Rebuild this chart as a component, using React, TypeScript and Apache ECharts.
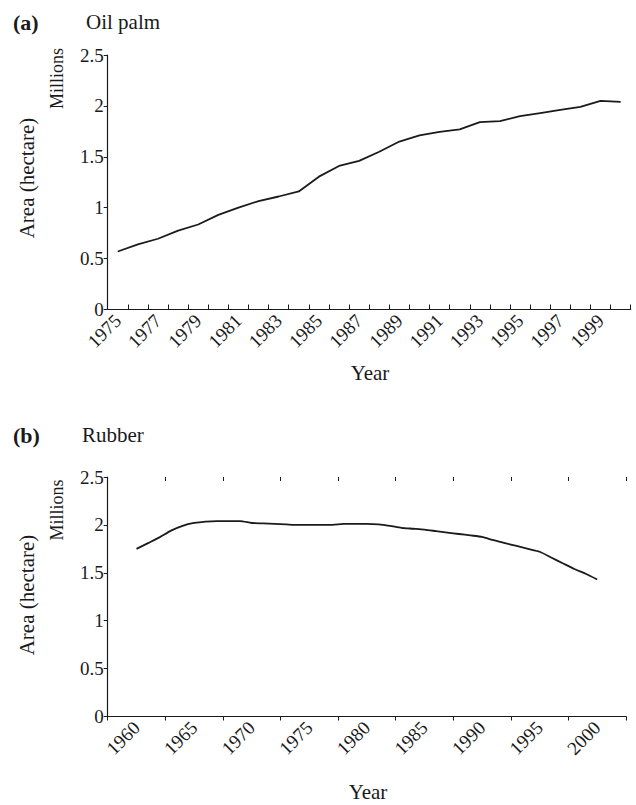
import React, { useEffect, useRef } from "react";
import * as echarts from "echarts";

const oilPalmYears = ["1975","1976","1977","1978","1979","1980","1981","1982","1983","1984","1985","1986","1987","1988","1989","1990","1991","1992","1993","1994","1995","1996","1997","1998","1999","2000"];
const oilPalmArea = [0.57,0.64,0.695,0.775,0.835,0.93,1.0,1.065,1.11,1.16,1.305,1.41,1.46,1.55,1.65,1.71,1.745,1.77,1.84,1.85,1.9,1.93,1.96,1.99,2.05,2.04];

const rubberTickYears = ["1960","1965","1970","1975","1980","1985","1990","1995","2000"];
const rubberYears = [1960,1961,1962,1963,1964,1965,1966,1967,1968,1969,1970,1971,1972,1973,1974,1975,1976,1977,1978,1979,1980,1981,1982,1983,1984,1985,1986,1987,1988,1989,1990,1991,1992,1993,1994,1995,1996,1997,1998,1999,2000];
const rubberArea = [1.75,1.81,1.87,1.94,1.99,2.02,2.035,2.04,2.04,2.04,2.02,2.015,2.01,2.005,2.0,2.0,2.0,2.0,2.01,2.01,2.01,2.005,1.99,1.97,1.96,1.95,1.935,1.92,1.905,1.89,1.875,1.84,1.81,1.78,1.75,1.72,1.66,1.6,1.54,1.49,1.43];

const FONT = "'Liberation Serif', 'DejaVu Serif', serif";
const BLACK = "#1a1a1a";

export default function App() {
  const ref = useRef<HTMLDivElement>(null);
  useEffect(() => {
    if (!ref.current) return;
    const chart = echarts.init(ref.current, undefined, { renderer: "svg" });
    const yAxisCommon = {
      type: "value",
      min: 0,
      max: 2.5,
      interval: 0.5,
      axisLine: { show: true, lineStyle: { color: BLACK, width: 1.2 } },
      axisTick: { show: true, inside: false, length: 4, lineStyle: { color: BLACK } },
      axisLabel: { color: BLACK, fontFamily: FONT, fontSize: 19, margin: 4 },
      splitLine: { show: false },
    };
    const labelCommon = { color: BLACK, fontFamily: FONT, fontSize: 19, rotate: 45, margin: 8 };
    const txt = (text: string, x: number, y: number, size: number, opts: any = {}) => ({
      type: "text",
      x,
      y,
      rotation: opts.rotation || 0,
      style: {
        text,
        fill: BLACK,
        font: `${opts.bold ? "bold " : ""}${size}px ${FONT}`,
        textAlign: opts.align || "center",
        textVerticalAlign: "middle",
      },
    });
    chart.setOption({
      animation: false,
      backgroundColor: "#ffffff",
      grid: [
        { left: 107.7, top: 55, width: 523, height: 254.5 },
        { left: 107.7, top: 477, width: 518.3, height: 239.5 },
      ],
      xAxis: [
        {
          type: "category",
          gridIndex: 0,
          data: oilPalmYears,
          boundaryGap: true,
          axisLine: { show: true, lineStyle: { color: BLACK, width: 1.2 } },
          axisTick: { show: true, inside: true, length: 5, interval: 0, lineStyle: { color: BLACK } },
          axisLabel: { ...labelCommon, interval: 1 },
          splitLine: { show: false },
        },
        {
          type: "category",
          gridIndex: 1,
          data: rubberTickYears,
          boundaryGap: true,
          axisLine: { show: true, lineStyle: { color: BLACK, width: 1.2 } },
          axisTick: { show: true, inside: false, length: 4, interval: 0, lineStyle: { color: BLACK } },
          axisLabel: { ...labelCommon, interval: 0 },
          splitLine: { show: false },
        },
        {
          type: "category",
          gridIndex: 1,
          data: rubberTickYears,
          boundaryGap: true,
          axisLine: { show: false },
          axisTick: { show: true, inside: true, length: 4, interval: 0, lineStyle: { color: BLACK } },
          axisLabel: { show: false },
          splitLine: { show: false },
        },
        {
          type: "value",
          gridIndex: 1,
          min: 1957.5,
          max: 2002.5,
          show: false,
        },
      ],
      yAxis: [
        { ...yAxisCommon, gridIndex: 0 },
        { ...yAxisCommon, gridIndex: 1 },
      ],
      series: [
        {
          type: "line",
          xAxisIndex: 0,
          yAxisIndex: 0,
          data: oilPalmArea,
          showSymbol: false,
          lineStyle: { color: BLACK, width: 1.8 },
        },
        {
          type: "line",
          xAxisIndex: 3,
          yAxisIndex: 1,
          data: rubberYears.map((y, i) => [y, rubberArea[i]]),
          showSymbol: false,
          smooth: 0.2,
          lineStyle: { color: BLACK, width: 1.8 },
        },
      ],
      graphic: [
        txt("(a)", 13, 22, 22, { bold: true, align: "left" }),
        txt("Oil palm", 86, 22, 21, { align: "left" }),
        txt("Millions", 57, 78.5, 18, { rotation: Math.PI / 2 }),
        txt("Area (hectare)", 27, 178, 21, { rotation: Math.PI / 2 }),
        txt("Year", 370, 373, 21),
        txt("(b)", 13, 435, 22, { bold: true, align: "left" }),
        txt("Rubber", 82, 435, 21, { align: "left" }),
        txt("Millions", 57, 510, 18, { rotation: Math.PI / 2 }),
        txt("Area (hectare)", 27, 595, 21, { rotation: Math.PI / 2 }),
        txt("Year", 368, 792, 21),
      ],
    });
    return () => chart.dispose();
  }, []);
  return (
    <div
      ref={ref}
      style={{ position: "absolute", left: 0, top: 0, width: 636, height: 805, background: "#fff" }}
    />
  );
}
